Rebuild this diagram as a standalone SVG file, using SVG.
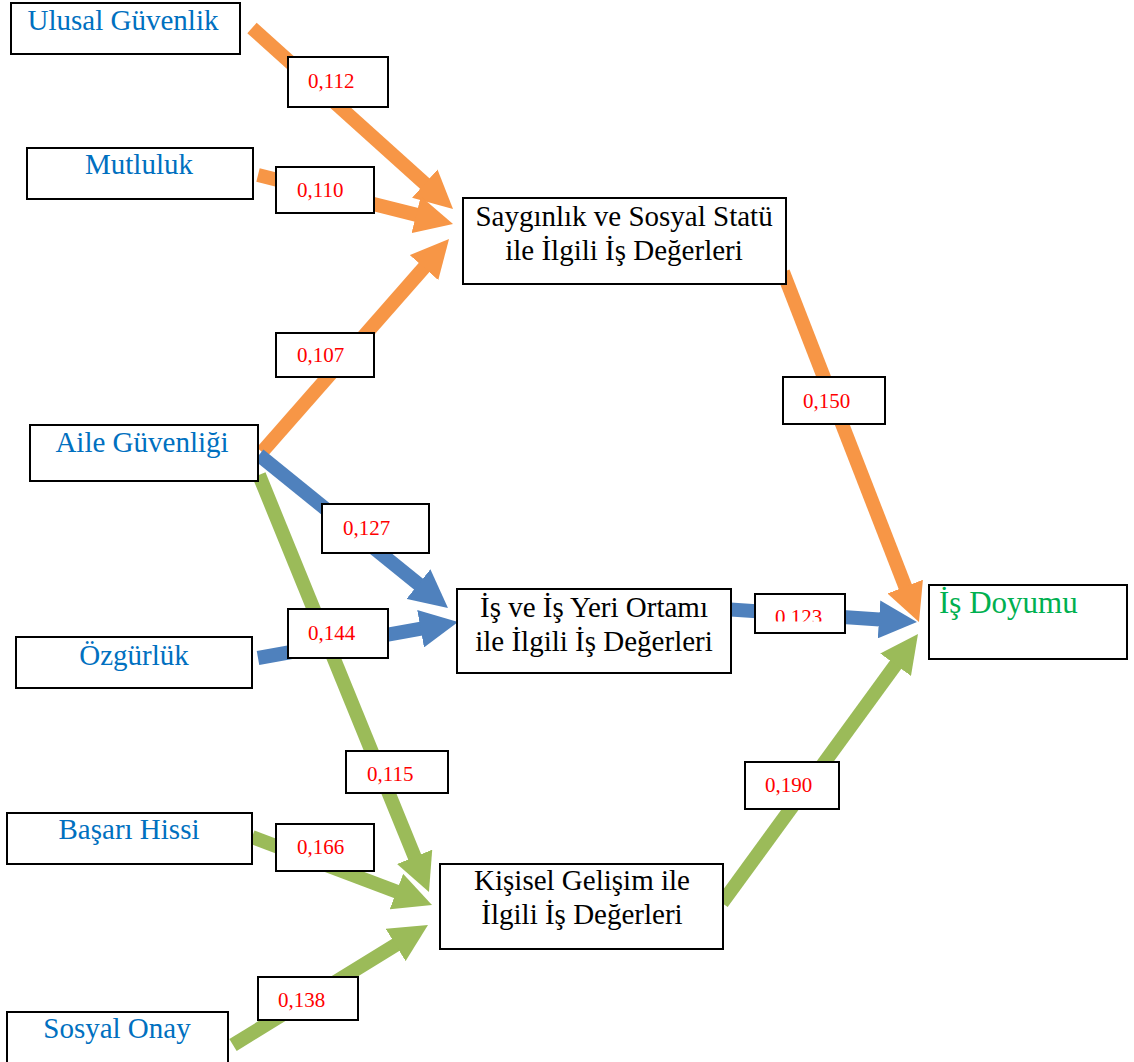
<svg xmlns="http://www.w3.org/2000/svg" width="1134" height="1062" viewBox="0 0 1134 1062">
<style>
.box{fill:#fff;stroke:#000;stroke-width:2}
.src{font-family:"Liberation Serif","Times New Roman",serif;font-size:29px;fill:#0070C0;text-anchor:middle}
.mid{font-family:"Liberation Serif","Times New Roman",serif;font-size:29px;fill:#000;text-anchor:middle}
.lbl{font-family:"Liberation Serif","Times New Roman",serif;font-size:21px;fill:#FF0000}
.o{stroke:#F79646;stroke-width:14;fill:none}
.b{stroke:#4F81BD;stroke-width:14;fill:none}
.g{stroke:#9BBB59;stroke-width:14;fill:none}
</style>
<defs>
<marker id="ho" markerUnits="userSpaceOnUse" markerWidth="38" markerHeight="38" viewBox="0 0 38 38" refX="19" refY="19" orient="auto"><path d="M0,0 L38,19 L0,38 z" fill="#F79646"/></marker>
<marker id="hb" markerUnits="userSpaceOnUse" markerWidth="38" markerHeight="38" viewBox="0 0 38 38" refX="19" refY="19" orient="auto"><path d="M0,0 L38,19 L0,38 z" fill="#4F81BD"/></marker>
<marker id="hg" markerUnits="userSpaceOnUse" markerWidth="38" markerHeight="38" viewBox="0 0 38 38" refX="19" refY="19" orient="auto"><path d="M0,0 L38,19 L0,38 z" fill="#9BBB59"/></marker>
<clipPath id="c123"><rect x="756" y="595" width="88" height="26.5"/></clipPath>
</defs>
<rect width="1134" height="1062" fill="#fff"/>
<g id="connectors">
<line class="o" x1="252" y1="28" x2="438.9" y2="196.3" marker-end="url(#ho)"/>
<line class="o" x1="258" y1="175" x2="434.6" y2="219.4" marker-end="url(#ho)"/>
<line class="o" x1="262" y1="452" x2="436.5" y2="253.3" marker-end="url(#ho)"/>
<line class="o" x1="783" y1="272" x2="912.1" y2="604.3" marker-end="url(#ho)"/>
<line class="b" x1="259" y1="455" x2="433.2" y2="596" marker-end="url(#hb)"/>
<line class="b" x1="258" y1="658" x2="439.3" y2="625.4" marker-end="url(#hb)"/>
<line class="b" x1="723" y1="609" x2="898" y2="620.7" marker-end="url(#hb)"/>
<line class="g" x1="259" y1="475" x2="421.8" y2="874.4" marker-end="url(#hg)"/>
<line class="g" x1="252" y1="837" x2="414.2" y2="898.3" marker-end="url(#hg)"/>
<line class="g" x1="233" y1="1045" x2="411.8" y2="935" marker-end="url(#hg)"/>
<line class="g" x1="722" y1="903" x2="906.8" y2="649.4" marker-end="url(#hg)"/>
</g>
<g id="n-ulusal"><rect class="box" x="11" y="3" width="229" height="51"/><text class="src" x="123" y="30">Ulusal Güvenlik</text></g>
<g id="n-mutluluk"><rect class="box" x="27" y="148" width="226" height="51"/><text class="src" x="139" y="174">Mutluluk</text></g>
<g id="n-aile"><rect class="box" x="30" y="425" width="228" height="56"/><text class="src" x="142" y="452">Aile Güvenliği</text></g>
<g id="n-ozgurluk"><rect class="box" x="16" y="637" width="236" height="51"/><text class="src" x="134" y="665">Özgürlük</text></g>
<g id="n-basari"><rect class="box" x="7" y="813" width="245" height="51"/><text class="src" x="129" y="839">Başarı Hissi</text></g>
<g id="n-sosyal"><rect class="box" x="7" y="1012" width="221" height="60"/><text class="src" x="117" y="1038">Sosyal Onay</text></g>
<g id="n-saygin"><rect class="box" x="463" y="198" width="323" height="86"/><text class="mid" x="624" y="226">Saygınlık ve Sosyal Statü</text><text class="mid" x="624" y="260">ile İlgili İş Değerleri</text></g>
<g id="n-isyeri"><rect class="box" x="457" y="589" width="274" height="84"/><text class="mid" x="594" y="617">İş ve İş Yeri Ortamı</text><text class="mid" x="594" y="651">ile İlgili İş Değerleri</text></g>
<g id="n-kisisel"><rect class="box" x="440" y="864" width="283" height="85"/><text class="mid" x="582" y="890">Kişisel Gelişim ile</text><text class="mid" x="582" y="924">İlgili İş Değerleri</text></g>
<g id="n-doyum"><rect class="box" x="929" y="585" width="198" height="74"/><text x="939" y="613" style="font-family:'Liberation Serif','Times New Roman',serif;font-size:31px;fill:#00B050">İş Doyumu</text></g>
<g id="labels">
<g id="l112"><rect class="box" x="288" y="57" width="100" height="50"/><text class="lbl" x="308" y="88">0,112</text></g>
<g id="l110"><rect class="box" x="276" y="167" width="98" height="46"/><text class="lbl" x="297" y="197">0,110</text></g>
<g id="l107"><rect class="box" x="276" y="333" width="98" height="44"/><text class="lbl" x="297" y="362">0,107</text></g>
<g id="l150"><rect class="box" x="783" y="377" width="102" height="47"/><text class="lbl" x="803" y="408">0,150</text></g>
<g id="l127"><rect class="box" x="322" y="504" width="107" height="49"/><text class="lbl" x="343" y="535">0,127</text></g>
<g id="l144"><rect class="box" x="288" y="609" width="100" height="49"/><text class="lbl" x="308" y="640">0,144</text></g>
<g id="l123"><rect class="box" x="755" y="594" width="90" height="39"/><text class="lbl" x="775" y="624" clip-path="url(#c123)">0,123</text></g>
<g id="l115"><rect class="box" x="346" y="751" width="102" height="42"/><text class="lbl" x="367" y="781">0,115</text></g>
<g id="l166"><rect class="box" x="276" y="824" width="98" height="47"/><text class="lbl" x="297" y="854">0,166</text></g>
<g id="l138"><rect class="box" x="258" y="977" width="100" height="43"/><text class="lbl" x="278" y="1007">0,138</text></g>
<g id="l190"><rect class="box" x="745" y="762" width="94" height="47"/><text class="lbl" x="765" y="792">0,190</text></g>
</g>
</svg>
